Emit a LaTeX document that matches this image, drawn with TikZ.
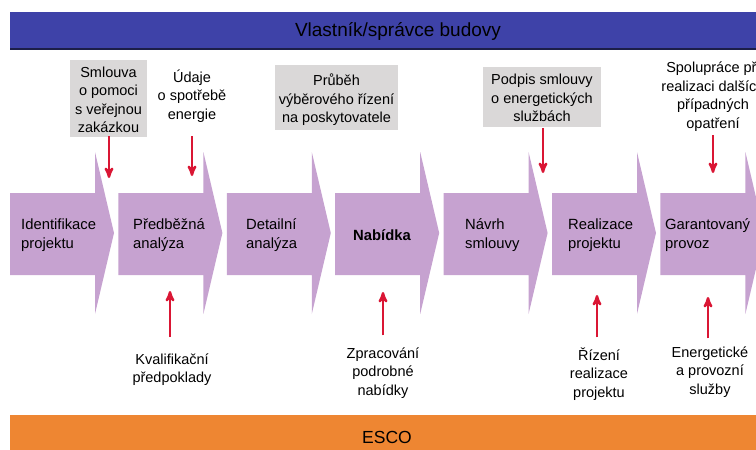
\documentclass[tikz,border=0pt]{standalone}
\usepackage{fontspec}
\setmainfont{Liberation Sans}
\usetikzlibrary{arrows}
\definecolor{barblue}{RGB}{62,66,168}
\definecolor{barnavy}{RGB}{28,30,72}
\definecolor{escoorange}{RGB}{238,134,50}
\definecolor{chevlila}{RGB}{198,162,208}
\definecolor{boxgray}{RGB}{218,216,216}
\definecolor{arrred}{RGB}{218,22,52}

\begin{document}
\begin{tikzpicture} [x=1pt, y=-1pt,
  chevron/.style={fill=chevlila},
  lbl/.style={font=\fontsize{14.5}{18.5}\selectfont, align=center, inner sep=0},
  steptext/.style={font=\fontsize{14.8}{19}\selectfont, align=left, inner sep=0, anchor=west},
  graybox/.style={fill=boxgray, inner sep=0},
  redarr/.style={arrred, line width=2.4pt, ->, >=stealth'}]
\useasboundingbox (0,0) rectangle (756,450);
% bars
\fill[barblue] (10,12) rectangle (760,50);
\draw[barnavy, line width=2] (10,49) -- (760,49);
\node[lbl, font=\fontsize{19}{22}\selectfont] (owner) at (398,31) {Vlastník/správce budovy};
\fill[escoorange] (10,415) rectangle (760,455);
\node[lbl, font=\fontsize{17.5}{20}\selectfont] (esco) at (387,437) {ESCO};
% chevrons
\foreach \i in {0,...,6}{
  \pgfmathsetmacro\L{10+108.4*\i}
  \fill[chevron] (\L,193) -- (\L+85,193) -- (\L+85,152) -- (\L+104,233)
     -- (\L+85,314) -- (\L+85,275) -- (\L,275) -- cycle;
}
\node[steptext] (ident) at (21,235.5) {Identifikace\\projektu};
\node[steptext] (predb) at (133,235.5) {Předběžná\\analýza};
\node[steptext] (detail) at (246,235.5) {Detailní\\analýza};
\node[steptext, anchor=center, font=\fontsize{14.8}{19}\bfseries] (nabidka) at (382,235.5) {Nabídka};
\node[steptext] (navrh) at (465,235.5) {Návrh\\smlouvy};
\node[steptext] (realiz) at (568,235.5) {Realizace\\projektu};
\node[steptext] (garant) at (665,235.5) {Garantovaný\\provoz};
% owner side
\fill[graybox] (70,60) rectangle (147,137);
\node[lbl] (smlouva) at (108.5,100) {Smlouva\\o pomoci\\s veřejnou\\zakázkou};
\node[lbl] (udaje) at (192,96) {Údaje\\o spotřebě\\energie};
\fill[graybox] (275,65) rectangle (398,130);
\node[lbl] (prubeh) at (336.5,100) {Průběh\\výběrového řízení\\na poskytovatele};
\fill[graybox] (483,67) rectangle (601,127);
\node[lbl] (podpis) at (542,98) {Podpis smlouvy\\o energetických\\službách};
\node[lbl] (spoluprace) at (713,96.5) {Spolupráce při\\realizaci dalších\\případných\\opatření};
\coordinate (d1) at (109,178);
\coordinate (d2) at (192,176);
\coordinate (d3) at (543,173);
\coordinate (d4) at (713,173);
\draw[redarr] (smlouva.south -| d1) ++(0,3) -- (d1);
\draw[redarr, shorten <=14pt] (udaje.south -| d2) -- (d2);
\draw[redarr, shorten <=6pt] (podpis.south -| d3) -- (d3);
\draw[redarr, shorten <=4pt] (spoluprace.south -| d4) -- (d4);
% esco side
\node[lbl] (kval) at (172,369.5) {Kvalifikační\\předpoklady};
\node[lbl] (zprac) at (383,373) {Zpracování\\podrobné\\nabídky};
\node[lbl] (rizeni) at (599,374) {Řízení\\realizace\\projektu};
\node[lbl] (energ) at (710,372) {Energetické\\a provozní\\služby};
\coordinate (u1) at (170,291);
\coordinate (u2) at (383,292);
\coordinate (u3) at (597,295);
\coordinate (u4) at (708,297);
\draw[redarr, shorten <=16pt] (kval.north -| u1) -- (u1);
\draw[redarr, shorten <=12pt] (zprac.north -| u2) -- (u2);
\draw[redarr, shorten <=10pt] (rizeni.north -| u3) -- (u3);
\draw[redarr, shorten <=8pt] (energ.north -| u4) -- (u4);
\end{tikzpicture}
\end{document}
